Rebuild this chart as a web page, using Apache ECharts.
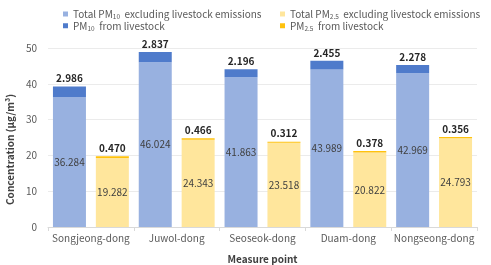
<!DOCTYPE html>
<html><head><meta charset="utf-8">
<script src="https://cdn.jsdelivr.net/npm/echarts@6/dist/echarts.min.js"></script>
<style>html,body{margin:0;padding:0;background:#fff}#c{width:491px;height:265px}</style>
</head><body><div id="c"></div>
<script>
const categories = ['Songjeong-dong','Juwol-dong','Seoseok-dong','Duam-dong','Nongseong-dong'];
const pm10Excl = [36.284, 46.024, 41.863, 43.989, 42.969];
const pm10Live = [2.986, 2.837, 2.196, 2.455, 2.278];
const pm25Excl = [19.282, 24.343, 23.518, 20.822, 24.793];
const pm25Live = [0.470, 0.466, 0.312, 0.378, 0.356];
const yTicks = [0, 10, 20, 30, 40, 50];
const names = ['Total PM10 excluding livestock emissions','PM10 from livestock','Total PM2.5 excluding livestock emissions','PM2.5 from livestock'];

const FONT = 'Noto Sans CJK KR';
const FS = 10;
const chart = echarts.init(document.getElementById('c'), null, {renderer:'canvas'});
const legendRich = {
  n:{fontSize:FS,color:'#595959',fontFamily:FONT},
  s:{fontSize:6.5,color:'#595959',fontFamily:FONT,padding:[5,0,0,0]}
};
function legendFmt(name){
  const m = {
    [names[0]]:'{n|Total PM}{s|10}{n|  excluding livestock emissions}',
    [names[1]]:'{n|PM}{s|10}{n|  from livestock}',
    [names[2]]:'{n|Total PM}{s|2.5}{n|  excluding livestock emissions}',
    [names[3]]:'{n|PM}{s|2.5}{n|  from livestock}'
  };
  return m[name];
}
const fmt3 = p => Number(p.value).toFixed(3);
chart.setOption({
  animation:false,
  textStyle:{fontFamily:FONT},
  legend:[
    {left:58, top:4, orient:'vertical', itemGap:1, itemWidth:5, itemHeight:5, icon:'rect', itemStyle:{borderWidth:0},
     data:[names[0],names[1]], formatter:legendFmt, textStyle:{rich:legendRich}},
    {left:275, top:4, orient:'vertical', itemGap:1, itemWidth:5, itemHeight:5, icon:'rect', itemStyle:{borderWidth:0},
     data:[names[2],names[3]], formatter:legendFmt, textStyle:{rich:legendRich}}
  ],
  grid:{left:48, right:14, top:48, bottom:38, outerBoundsMode:'none'},
  xAxis:{
    type:'category', data:categories,
    axisLine:{lineStyle:{color:'#D9D9D9'}},
    axisTick:{show:true, length:4, lineStyle:{color:'#D9D9D9'}},
    axisLabel:{color:'#595959', fontSize:FS, margin:6, fontFamily:FONT, interval:0},
    name:'Measure point', nameLocation:'middle', nameGap:27,
    nameTextStyle:{color:'#404040', fontSize:FS, fontWeight:'bold', fontFamily:FONT}
  },
  yAxis:{
    type:'value', min:0, max:50, interval:10,
    axisLine:{show:false}, axisTick:{show:false},
    splitLine:{lineStyle:{color:'#EBEBEB'}},
    axisLabel:{color:'#595959', fontSize:FS, margin:11, fontFamily:FONT,
      formatter:v => yTicks.includes(v) ? String(v) : ''},
    name:'Concentration (\u03bcg/m\u00b3)', nameLocation:'middle', nameGap:28, nameRotate:90,
    nameTextStyle:{color:'#404040', fontSize:FS, fontWeight:'bold', fontFamily:FONT, padding:[0,24,0,0]}
  },
  series:[
    {name:names[0], type:'bar', stack:'pm10', data:pm10Excl, barWidth:33, barGap:'30%',
     itemStyle:{color:'#98B1E0'},
     label:{show:true, position:'inside', color:'#404040', fontSize:FS, formatter:fmt3, fontFamily:FONT}},
    {name:names[1], type:'bar', stack:'pm10', data:pm10Live, barWidth:33, barGap:'30%',
     itemStyle:{color:'#4F7BCB'},
     label:{show:true, position:'top', distance:3, color:'#262626', fontSize:FS, fontWeight:'bold', formatter:fmt3, fontFamily:FONT}},
    {name:names[2], type:'bar', stack:'pm25', data:pm25Excl, barWidth:33, barGap:'30%',
     itemStyle:{color:'#FFE69C'},
     label:{show:true, position:'inside', color:'#404040', fontSize:FS, formatter:fmt3, fontFamily:FONT}},
    {name:names[3], type:'bar', stack:'pm25', data:pm25Live, barWidth:33, barGap:'30%',
     itemStyle:{color:'#FFC20E'},
     label:{show:true, position:'top', distance:3, color:'#262626', fontSize:FS, fontWeight:'bold', formatter:fmt3, fontFamily:FONT}}
  ]
});
</script></body></html>
